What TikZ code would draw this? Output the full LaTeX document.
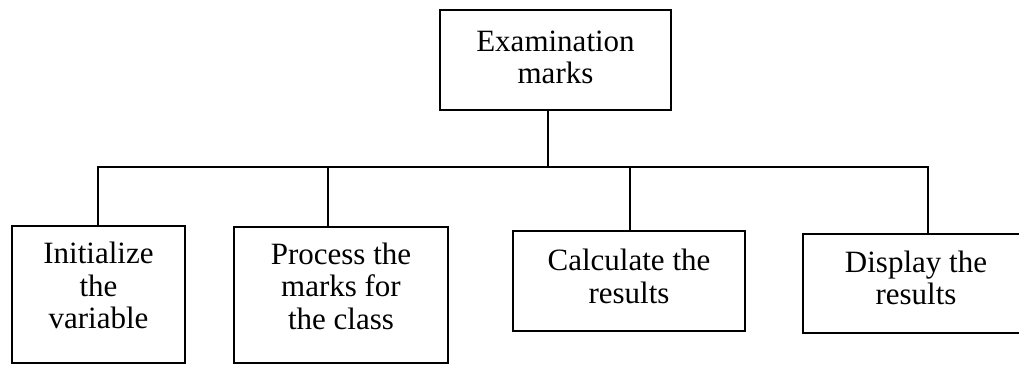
\documentclass[tikz,border=0pt]{standalone}
\usepackage{fontspec}
\setmainfont{Liberation Serif}
\begin{document}
\begin{tikzpicture}[x=1pt,y=-1pt,
  box/.style={draw, line width=2.4pt, inner sep=0pt, align=center,
    font=\fontsize{31}{32.5}\selectfont},
  conn/.style={line width=2.4pt}]
\useasboundingbox (0,0) rectangle (1019,365);
\clip (0,0) rectangle (1019,365);
\node[box, text depth=6pt, minimum width=231pt, minimum height=100pt] (top) at (555.5,60) {Examination\\marks};
\node[box, text depth=18pt, minimum width=173pt, minimum height=137pt] (b1) at (98.5,294.5) {Initialize\\the\\variable};
\node[box, text depth=18pt, minimum width=214pt, minimum height=136pt] (b2) at (341,295) {Process the\\marks for\\the class};
\node[box, text depth=10pt, minimum width=232pt, minimum height=100pt] (b3) at (629,281) {Calculate the\\results};
\node[box, text depth=12pt, minimum width=226pt, minimum height=99pt] (b4) at (916,283.5) {Display the\\results};
\coordinate (j0) at (548,167);
\coordinate (j1) at (98,167);
\coordinate (j2) at (328,167);
\coordinate (j3) at (630,167);
\coordinate (j4) at (928,167);
\draw[conn] (j0 |- top.south) -- (j0);
\draw[conn] (j1 |- b1.north) -- (j1) -- (j4) -- (j4 |- b4.north);
\draw[conn] (j2) -- (j2 |- b2.north);
\draw[conn] (j3) -- (j3 |- b3.north);
\end{tikzpicture}
\end{document}
